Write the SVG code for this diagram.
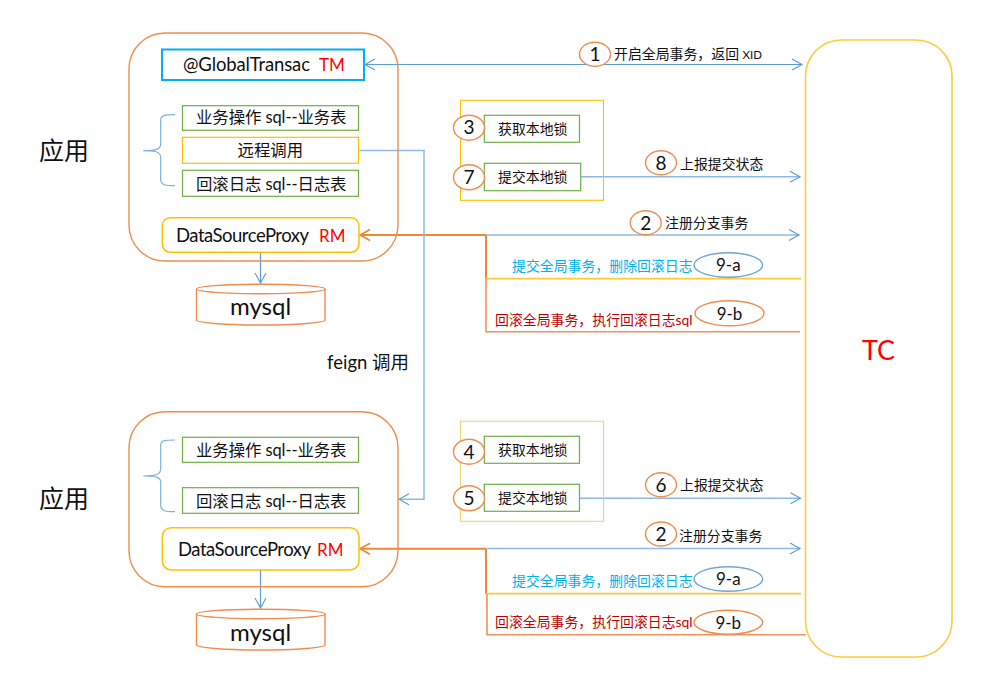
<svg xmlns="http://www.w3.org/2000/svg" width="1006" height="685" viewBox="0 0 1006 685">
<style>
text{font-family:"Lato","Noto Sans CJK SC",sans-serif;fill:#111}
.app{fill:none;stroke:#f08c4e;stroke-width:1.4}
.tc{fill:#fff;stroke:#ffc93c;stroke-width:1.6}
.g{fill:#fff;stroke:#70ad47;stroke-width:1.2}
.y{fill:#fff;stroke:#ffc000;stroke-width:1.2}
.ds{fill:#fff;stroke:#ffc000;stroke-width:1.5}
.o{fill:#fff;stroke:#f08c4e;stroke-width:1.4}
.b{fill:#fff;stroke:#6fa6dc;stroke-width:1.4}
.brace{fill:none;stroke:#7fb0de;stroke-width:1.2}
.l{fill:none;stroke:#5b9bd5;stroke-width:1.2}
.ll{fill:none;stroke:#8dbae4;stroke-width:1.5}
.lo{fill:none;stroke:#e98a35;stroke-width:2}
.lo1{fill:none;stroke:#f0935a;stroke-width:1.6}
.ly{fill:none;stroke:#ffc93c;stroke-width:1.7}
.t16{font-size:16.4px}
.t18{font-size:18.5px}
.t14{font-size:13.9px}
.num{font-size:19px;text-anchor:middle}
.nine{font-size:17px;text-anchor:middle}
.red{fill:#ff0000}
.mark{font-size:17px}
.db{font-size:24px;text-anchor:middle}
.cy{fill:#00b0f0}
.dr{fill:#c00000}
</style>
<defs>
<marker id="ah" markerUnits="userSpaceOnUse" markerWidth="14" markerHeight="14" refX="11" refY="7" orient="auto-start-reverse"><path d="M1 1.5L11 7L1 12.5" fill="none" stroke="#5b9bd5" stroke-width="1.1"/></marker>
<marker id="ao" markerUnits="userSpaceOnUse" markerWidth="14" markerHeight="14" refX="11" refY="7" orient="auto"><path d="M1 1.5L11 7L1 12.5" fill="none" stroke="#e98a35" stroke-width="1.6"/></marker>
</defs>

<g id="connectors">
<path class="l" d="M365 64.5H802" marker-start="url(#ah)" marker-end="url(#ah)"/>
<path class="ll" d="M581 176.7H800" marker-end="url(#ah)"/>
<path class="ll" d="M486 235H799" marker-end="url(#ah)"/>
<path class="lo" d="M486 235H360" marker-end="url(#ao)"/>
<path class="lo" d="M486 235V279"/>
<path class="ly" d="M486 278.7H801"/>
<path class="lo1" d="M486 279V331.7H800"/>
<path class="ll" d="M359.5 150.5H424V499.3H399" marker-end="url(#ah)"/>
<path class="l" d="M260.5 252V283" marker-end="url(#ah)"/>
<path class="ll" d="M580 498.3H800.5" marker-end="url(#ah)"/>
<path class="ll" d="M487 548.5H800" marker-end="url(#ah)"/>
<path class="lo" d="M486 548.8H360" marker-end="url(#ao)"/>
<path class="lo" d="M486 548.8V593.7"/>
<path class="ly" d="M486 593.7H801"/>
<path class="lo1" d="M487 593.7V634.7H806"/>
<path class="l" d="M260.5 570V608" marker-end="url(#ah)"/>
</g>

<g id="app1">
<rect class="app" x="129" y="33" width="269" height="228" rx="36"/>
<text x="39" y="160" font-size="25">应用</text>
</g>
<g id="tm"><rect x="162" y="49.5" width="202" height="30.5" fill="#fff" stroke="#00b0f0" stroke-width="2"/>
<text class="t18" x="183" y="71" textLength="127">@GlobalTransac</text><text class="mark red" x="319" y="71">TM</text></g>
<g id="biz1"><rect class="g" x="182.5" y="105.7" width="176" height="24.6"/><text class="t16" x="196" y="123" textLength="150.5">业务操作 sql--业务表</text></g>
<g id="remote"><rect class="y" x="182.5" y="137.3" width="176" height="26"/><text class="t16" x="237.5" y="156">远程调用</text></g>
<g id="undo1"><rect class="g" x="182.5" y="170.3" width="176" height="26"/><text class="t16" x="196" y="189.5" textLength="150.5">回滚日志 sql--日志表</text></g>
<path id="brace1" class="brace" d="M175 114.7C166 114.7 161 114.5 160.7 120V144C160.5 149.5 156 150.7 143.3 150.7C156 150.7 160.5 152 160.7 157V180C161 185 166 185.7 175 185.7"/>
<g id="rm1"><rect class="ds" x="162.3" y="217.7" width="196.7" height="34.5" rx="8"/><text class="t18" x="176" y="242" textLength="133">DataSourceProxy</text><text class="mark red" x="319" y="242">RM</text></g>
<g id="mysql1"><path class="o" d="M196.5 289V320C196.5 322.5 225 325 261 325S325 322.5 325 320V289"/><ellipse class="o" cx="260.8" cy="289" rx="64.3" ry="4.7"/><text class="db" x="260.5" y="315">mysql</text></g>

<g id="lock1"><rect x="460.5" y="100.3" width="143" height="100" fill="none" stroke="#ffc000" stroke-width="1.1"/></g>
<g id="acq1"><rect class="g" x="484.3" y="115.3" width="95.2" height="27"/><text class="t14" x="498" y="133.5">获取本地锁</text></g>
<g id="sub1"><rect class="g" x="484.3" y="163.3" width="96.4" height="27.4"/><text class="t14" x="498" y="181.5">提交本地锁</text></g>
<g id="n3"><ellipse class="o" cx="469" cy="127.7" rx="15.5" ry="12.5"/><text class="num" x="469" y="134">3</text></g>
<g id="n7"><ellipse class="o" cx="469" cy="177.3" rx="15.5" ry="12.5"/><text class="num" x="469" y="184">7</text></g>

<g id="n1"><ellipse class="o" cx="595" cy="54.3" rx="15.5" ry="12"/><text class="num" x="595" y="61">1</text><text class="t14" x="614" y="59">开启全局事务，返回 <tspan font-size="11.5">XID</tspan></text></g>
<g id="n8"><ellipse class="o" cx="661" cy="162.7" rx="15.5" ry="12"/><text class="num" x="661" y="169.5">8</text><text class="t14" x="680" y="168.5">上报提交状态</text></g>
<g id="n2a"><ellipse class="o" cx="645.7" cy="222.7" rx="15.5" ry="12"/><text class="num" x="645.7" y="229.5">2</text><text class="t14" x="665" y="227.5">注册分支事务</text></g>
<g id="n9a1"><text class="t14 cy" x="512" y="271">提交全局事务，删除回滚日志</text><ellipse class="b" cx="728.3" cy="265" rx="34.3" ry="12.3"/><text class="nine" x="728.3" y="271">9-a</text></g>
<g id="n9b1"><text class="t14 dr" x="495" y="324.5">回滚全局事务，执行回滚日志sql</text><ellipse class="o" cx="729.5" cy="313.3" rx="34.5" ry="12.5"/><text class="nine" x="729.5" y="319.5">9-b</text></g>

<g id="feign"><text class="t18" x="327" y="369">feign 调用</text></g>

<g id="app2">
<rect class="app" x="129" y="411.7" width="269" height="175" rx="36"/>
<text x="39" y="508" font-size="25">应用</text>
</g>
<g id="biz2"><rect class="g" x="182.5" y="437.3" width="176" height="25"/><text class="t16" x="196" y="456" textLength="150.5">业务操作 sql--业务表</text></g>
<g id="undo2"><rect class="g" x="182.5" y="487.7" width="176" height="25.6"/><text class="t16" x="196" y="506.5" textLength="150.5">回滚日志 sql--日志表</text></g>
<path id="brace2" class="brace" d="M175 440C166 440 161 440 160.7 445V469C160.5 474.5 156 476 143.3 476C156 476 160.5 477 160.7 482V506C161 511 166 511.7 175 511.7"/>
<g id="rm2"><rect class="ds" x="162.3" y="527.7" width="196.7" height="42.3" rx="9"/><text class="t18" x="178" y="556" textLength="133">DataSourceProxy</text><text class="mark red" x="317" y="556">RM</text></g>
<g id="mysql2"><path class="o" d="M196.5 614V645C196.5 647.5 225 650 261 650S325 647.5 325 645V614"/><ellipse class="o" cx="260.8" cy="614" rx="64.3" ry="4.7"/><text class="db" x="260.5" y="641">mysql</text></g>

<g id="lock2"><rect x="460.5" y="421.3" width="143" height="100" fill="none" stroke="#f2d27a" stroke-width="1.1"/></g>
<g id="acq2"><rect class="g" x="484.3" y="436.3" width="95.2" height="27"/><text class="t14" x="498" y="455">获取本地锁</text></g>
<g id="sub2"><rect class="g" x="484.3" y="484.3" width="95.2" height="27"/><text class="t14" x="498" y="503">提交本地锁</text></g>
<g id="n4"><ellipse class="o" cx="469" cy="451.7" rx="15.5" ry="12.5"/><text class="num" x="469" y="458.5">4</text></g>
<g id="n5"><ellipse class="o" cx="469" cy="498.3" rx="15.5" ry="12.5"/><text class="num" x="469" y="505">5</text></g>
<g id="n6"><ellipse class="o" cx="661" cy="484.7" rx="15.5" ry="12"/><text class="num" x="661" y="491.5">6</text><text class="t14" x="680" y="490">上报提交状态</text></g>
<g id="n2b"><ellipse class="o" cx="661" cy="534" rx="15.5" ry="12"/><text class="num" x="661" y="540.5">2</text><text class="t14" x="679" y="541">注册分支事务</text></g>
<g id="n9a2"><text class="t14 cy" x="512" y="586">提交全局事务，删除回滚日志</text><ellipse class="b" cx="728.3" cy="579" rx="34.3" ry="12.3"/><text class="nine" x="728.3" y="585">9-a</text></g>
<g id="n9b2"><text class="t14 dr" x="495" y="627">回滚全局事务，执行回滚日志sql</text><ellipse class="o" cx="728.3" cy="622.3" rx="34.3" ry="12"/><text class="nine" x="728.3" y="628.5">9-b</text></g>

<g id="tc"><rect class="tc" x="805.5" y="40" width="146.5" height="617" rx="36"/><text class="red" x="862" y="360" font-size="27">TC</text></g>
</svg>
